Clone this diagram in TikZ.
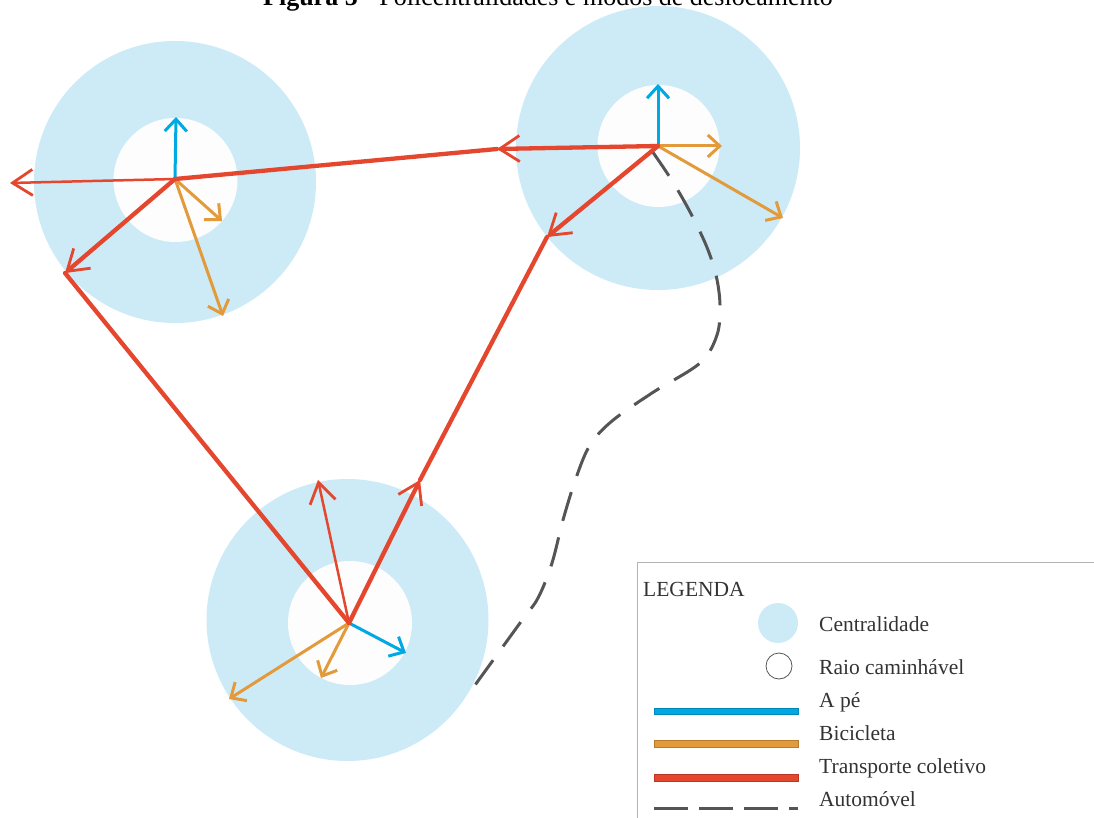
\documentclass[tikz,border=0pt]{standalone}
\usepackage{fontspec}
\setmainfont{Liberation Serif}
\usetikzlibrary{arrows.meta}

\definecolor{zone}{HTML}{CDEBF7}
\definecolor{walkzone}{HTML}{FDFDFD}
\definecolor{walkcol}{HTML}{00A9E4}
\definecolor{bikecol}{HTML}{E39A3B}
\definecolor{buscol}{HTML}{E4462E}
\definecolor{carcol}{HTML}{555555}
\definecolor{txtcol}{HTML}{333333}
\definecolor{framecol}{HTML}{B4B4B4}

\begin{document}
\begin{tikzpicture}[x=1pt,y=-1pt,
  centre/.style={circle, fill=zone, inner sep=0pt},
  walkring/.style={circle, fill=walkzone, inner sep=0pt},
  walk/.style={walkcol, line width=3pt, -{Straight Barb[length=12pt,width=22pt]}},
  bike/.style={bikecol, line width=3pt, -{Straight Barb[length=12pt,width=22pt]}},
  busthick/.style={buscol, line width=4.3pt, line cap=round, line join=round},
  busthin/.style={buscol, line width=2.5pt, line cap=round},
  bustip/.style={-{Straight Barb[length=20pt,width=26pt,line width=2.8pt]}},
  car/.style={carcol, line width=3pt, dash pattern=on 30pt off 17pt},
  legtext/.style={anchor=base west, font=\fontsize{21.5}{21.5}\selectfont, text=txtcol, inner sep=0pt},
  keybar/.style={anchor=west, minimum width=144pt, minimum height=6.5pt, inner sep=0pt, line width=0.4pt}
]
\path[use as bounding box] (0,0) rectangle (1094,818);
\clip (0,0) rectangle (1094,818);

% title, partly above the page edge
\node[anchor=base, inner sep=0pt, font=\fontsize{26}{26}\selectfont] (title) at (548,6)
  {\textbf{Figura 5} - Policentralidades e modos de deslocamento};

% centralities and their walkable radius
\node[centre, minimum size=282pt] (zoneA) at (175,182) {};
\node[centre, minimum size=284pt] (zoneB) at (658,148) {};
\node[centre, minimum size=282pt] (zoneC) at (347.5,620) {};
\node[walkring, minimum size=124pt] (ringA) at (175.5,180) {};
\node[walkring, minimum size=122pt] (ringB) at (658.5,146) {};
\node[walkring, minimum size=124pt] (ringC) at (350,623) {};

% hubs
\coordinate (hA) at (175,179);
\coordinate (hB) at (658,146);
\coordinate (hC) at (349,623);

% free ends of the short trips
\coordinate (wA) at (176,117);
\coordinate (bA1) at (222,221);
\coordinate (bA2) at (223,316);
\coordinate (tA) at (10,183);
\coordinate (wB) at (658,84);
\coordinate (bB1) at (722,146);
\coordinate (bB2) at (783,218);
\coordinate (wC) at (406,653);
\coordinate (bC1) at (321,678);
\coordinate (bC2) at (229,699);
\coordinate (tC) at (318,480);

% bends of the public transport line
\coordinate (k1) at (65,273);
\coordinate (k2) at (420,480);
\coordinate (k3) at (547,237);
\coordinate (k4) at (497,149);

% car route
\coordinate (c0) at (652,151);
\coordinate (c12) at (470,692);
\draw[car] plot[smooth, tension=0.55] coordinates {(c0) (671,179) (689,210) (706,245) (716,275) (720,305) (717,335) (700,363) (652,393) (612,421) (590,445) (576,478) (563,520) (552,563) (538,598) (520,623) (c12)};

% walking and cycling
\draw[walk] (hA) -- (wA);
\draw[walk] (hB) -- (wB);
\draw[walk] (hC) -- (wC);
\draw[bike] (hA) -- (bA1);
\draw[bike] (hA) -- (bA2);
\draw[bike] (hB) -- (bB1);
\draw[bike] (hB) -- (bB2);
\draw[bike] (hC) -- (bC1);
\draw[bike] (hC) -- (bC2);

% public transport
\draw[busthin, bustip] (hA) -- (tA);
\draw[busthin, bustip] (hC) -- (tC);
\draw[busthick, bustip] (hA) -- (k1);
\draw[busthick] (k1) -- (hC);
\draw[busthick, bustip] (hC) -- (k2);
\draw[busthick] (k2) -- (k3);
\draw[busthick, bustip] (hB) -- (k3);
\draw[busthick, bustip] (hB) -- (k4);
\draw[busthick] (k4) -- (hA);

% legend
\node[draw=framecol, line width=1pt, anchor=north west, minimum width=480pt, minimum height=280pt, inner sep=0pt] (legend) at (637,562) {};
\node[legtext] (legTitle) at (643,596) {LEGENDA};
\node[centre, minimum size=40pt] (keyZone) at (778,623) {};
\node[legtext] (legZone) at (819,631) {Centralidade};
\node[circle, draw=carcol, line width=0.8pt, fill=white, minimum size=26pt, inner sep=0pt] (keyRing) at (779,666) {};
\node[legtext] (legRing) at (819,674) {Raio caminhável};
\node[keybar, fill=walkcol, draw=walkcol!80!black] (keyWalk) at (654,711) {};
\node[legtext] (legWalk) at (819,707) {A pé};
\node[keybar, fill=bikecol, draw=bikecol!80!black] (keyBike) at (654,743.5) {};
\node[legtext] (legBike) at (819,740) {Bicicleta};
\node[keybar, fill=buscol, draw=buscol!80!black] (keyBus) at (654,777.5) {};
\node[legtext] (legBus) at (819,773) {Transporte coletivo};
\coordinate (keyCar0) at (654,808.5);
\coordinate (keyCar1) at (798,808.5);
\draw[carcol, line width=3.5pt, dash pattern=on 34pt off 11pt] (keyCar0) -- (keyCar1);
\node[legtext] (legCar) at (819,806) {Automóvel};
\end{tikzpicture}
\end{document}
